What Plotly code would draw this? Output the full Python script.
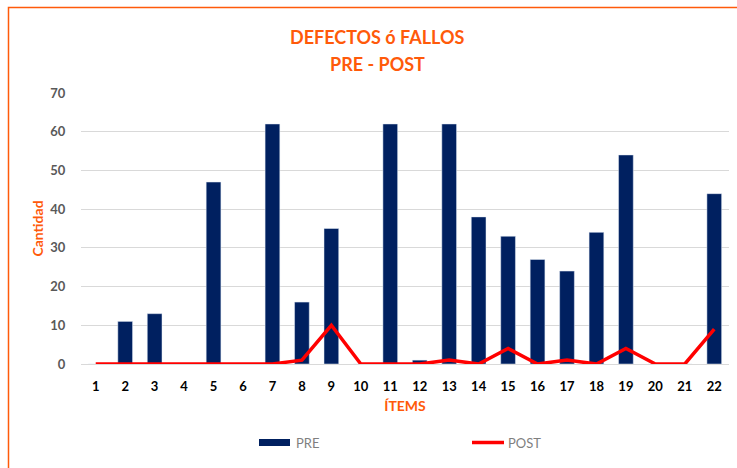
import plotly.graph_objects as go

items = [str(i) for i in range(1, 23)]
pre = [0, 11, 13, 0, 47, 0, 62, 16, 35, 0, 62, 1, 62, 38, 33, 27, 24, 34, 54, 0, 0, 44]
post = [0, 0, 0, 0, 0, 0, 0, 1, 10, 0, 0, 0, 1, 0, 4, 0, 1, 0, 4, 0, 0, 9]
y_ticks = [0, 10, 20, 30, 40, 50, 60, 70]

W, H = 737, 468
ML, MR, MT, MB = 81, 8, 93, 104
PW, PH = W - ML - MR, H - MT - MB

ORANGE = "#FF5A0A"
NAVY = "#002060"
RED = "#FF0000"
FONT = "Lato"


def px_x(px):
    return (px - ML) / PW


def px_y(py):
    return (H - MB - py) / PH


fig = go.Figure()
fig.add_trace(go.Bar(x=items, y=pre, name="PRE", marker_color=NAVY, showlegend=False))
fig.add_trace(go.Scatter(x=items, y=post, name="POST", mode="lines",
                         line=dict(color=RED, width=3.5), showlegend=False))

shapes = [
    # outer chart frame (orange)
    dict(type="rect", xref="paper", yref="paper",
         x0=px_x(8.5), x1=px_x(760), y0=px_y(7.5), y1=px_y(500),
         line=dict(color=ORANGE, width=1.5), fillcolor="rgba(0,0,0,0)", layer="below"),
    # legend symbols
    dict(type="rect", xref="paper", yref="paper",
         x0=px_x(259), x1=px_x(290), y0=px_y(446), y1=px_y(439),
         line=dict(width=0), fillcolor=NAVY),
    dict(type="line", xref="paper", yref="paper",
         x0=px_x(472), x1=px_x(504), y0=px_y(442.5), y1=px_y(442.5),
         line=dict(color=RED, width=3.5)),
]

annotations = [
    dict(text="<b>DEFECTOS ó FALLOS</b>", xref="paper", yref="paper",
         x=px_x(377), y=px_y(37), showarrow=False,
         font=dict(family=FONT, size=18, color=ORANGE), xanchor="center", yanchor="middle"),
    dict(text="<b>PRE - POST</b>", xref="paper", yref="paper",
         x=px_x(377), y=px_y(64), showarrow=False,
         font=dict(family=FONT, size=18, color=ORANGE), xanchor="center", yanchor="middle"),
    dict(text="PRE", xref="paper", yref="paper", x=px_x(294), y=px_y(442.5),
         showarrow=False, xanchor="left", yanchor="middle",
         font=dict(family=FONT, size=13, color="#7F7F7F")),
    dict(text="POST", xref="paper", yref="paper", x=px_x(506), y=px_y(442.5),
         showarrow=False, xanchor="left", yanchor="middle",
         font=dict(family=FONT, size=13, color="#7F7F7F")),
]

fig.update_layout(
    width=W, height=H,
    margin=dict(l=ML, r=MR, t=MT, b=MB, pad=0),
    paper_bgcolor="white", plot_bgcolor="white",
    bargap=0.5,
    shapes=shapes,
    annotations=annotations,
    font=dict(family=FONT),
    xaxis=dict(
        type="category", showgrid=False, showline=False, zeroline=False,
        tickfont=dict(family=FONT, size=13, color="#000000", weight="bold"),
        ticks="outside", ticklen=10, tickcolor="rgba(0,0,0,0)",
        title=dict(text="<b>ÍTEMS</b>", font=dict(family=FONT, size=14, color=ORANGE), standoff=8),
    ),
    yaxis=dict(
        range=[0, 70], tickvals=y_ticks, showgrid=True, gridcolor="#D9D9D9", gridwidth=1,
        zeroline=True, zerolinecolor="#D9D9D9", zerolinewidth=1, showline=False,
        tickfont=dict(family=FONT, size=13, color="#595959", weight="bold"),
        ticks="outside", ticklen=12, tickcolor="rgba(0,0,0,0)",
        title=dict(text="<b>Cantidad</b>", font=dict(family=FONT, size=14, color=ORANGE), standoff=3),
    ),
)

fig.write_html("out.html")
